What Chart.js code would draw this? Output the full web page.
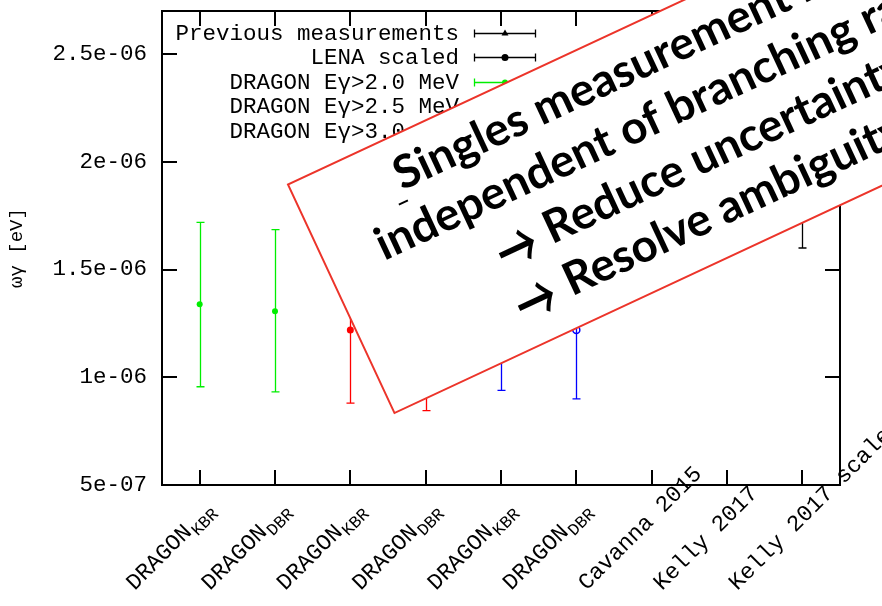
<!DOCTYPE html>
<html>
<head>
<meta charset="utf-8">
<script src="https://cdn.jsdelivr.net/npm/chart.js@4.4.1/dist/chart.umd.min.js"></script>
<style>
  html, body { margin: 0; padding: 0; background: #ffffff; overflow: hidden; }
  canvas { display: block; }
</style>
</head>
<body>
<canvas id="c" width="882" height="606"></canvas>
<script>
// ---- x categories (main text + subscript) ----
const categoryNames = ['DRAGON', 'DRAGON', 'DRAGON', 'DRAGON', 'DRAGON', 'DRAGON', 'Cavanna 2015', 'Kelly 2017', 'Kelly 2017 scaled'];
const categorySubs  = ['KBR', 'DBR', 'KBR', 'DBR', 'KBR', 'DBR', '', '', ''];

// ---- y axis ticks ----
const yTickValues = [5e-7, 1e-6, 1.5e-6, 2e-6, 2.5e-6];
const yTickLabels = ['5e-07', '1e-06', '1.5e-06', '2e-06', '2.5e-06'];

// ---- series: category position, value, lower and upper error limits (eV) ----
const previousX   = [6, 7];
const previousY   = [1.80e-6, 2.10e-6];
const previousLo  = [1.50e-6, 1.75e-6];
const previousHi  = [2.10e-6, 2.45e-6];

const lenaX  = [8];
const lenaY  = [1.92e-6];
const lenaLo = [1.60e-6];
const lenaHi = [2.24e-6];

const dragon20X  = [0, 1];
const dragon20Y  = [1.339e-6, 1.307e-6];
const dragon20Lo = [0.956e-6, 0.932e-6];
const dragon20Hi = [1.719e-6, 1.685e-6];

const dragon25X  = [2, 3];
const dragon25Y  = [1.219e-6, 1.190e-6];
const dragon25Lo = [0.880e-6, 0.845e-6];
const dragon25Hi = [1.558e-6, 1.535e-6];

const dragon30X  = [4, 5];
const dragon30Y  = [1.260e-6, 1.219e-6];
const dragon30Lo = [0.939e-6, 0.900e-6];
const dragon30Hi = [1.581e-6, 1.538e-6];

// ---- call-out note: optional leading arrow + words per line ----
const noteArrows = ['', '', '\u2192', '\u2192'];
const noteWords = [
  'Singles measurement is',
  'independent of branching ratio',
  'Reduce uncertainty',
  'Resolve ambiguity'
];

const MONO = '"Liberation Mono", "DejaVu Sans Mono", monospace';

function points(xs, ys) {
  return xs.map((x, i) => ({ x: x, y: ys[i] }));
}

function series(label, color, style, radius, filled, xs, ys, lo, hi) {
  return {
    label: label,
    data: points(xs, ys),
    errLo: lo,
    errHi: hi,
    showLine: false,
    borderColor: color,
    backgroundColor: filled ? color : '#ffffff',
    pointStyle: style,
    pointRadius: radius,
    pointBorderWidth: filled ? 0 : 1.5,
    pointBackgroundColor: filled ? color : 'rgba(0,0,0,0)',
    pointBorderColor: color
  };
}

const datasets = [
  series('Previous measurements', '#000000', 'triangle', 4, true, previousX, previousY, previousLo, previousHi),
  series('LENA scaled', '#000000', 'circle', 3.5, true, lenaX, lenaY, lenaLo, lenaHi),
  series('DRAGON E\u03b3>2.0 MeV', '#00ee00', 'circle', 3, true, dragon20X, dragon20Y, dragon20Lo, dragon20Hi),
  series('DRAGON E\u03b3>2.5 MeV', '#ff0000', 'circle', 3.5, true, dragon25X, dragon25Y, dragon25Lo, dragon25Hi),
  series('DRAGON E\u03b3>3.0 MeV', '#0000ff', 'circle', 3.5, false, dragon30X, dragon30Y, dragon30Lo, dragon30Hi)
];

function drawMarker(ctx, ds, x, y) {
  ctx.save();
  ctx.fillStyle = ds.pointBackgroundColor;
  ctx.strokeStyle = ds.pointBorderColor;
  ctx.lineWidth = ds.pointBorderWidth || 1;
  Chart.helpers.drawPoint(ctx, {
    pointStyle: ds.pointStyle,
    radius: ds.pointRadius,
    borderWidth: ds.pointBorderWidth,
    rotation: 0
  }, x, y);
  ctx.restore();
}

// Frame, mirrored inward ticks, rotated x labels, error bars and key
const framePlugin = {
  id: 'frame',
  beforeDatasetsDraw(chart) {
    const ctx = chart.ctx;
    const a = chart.chartArea;
    const xs = chart.scales.x;
    const ys = chart.scales.y;
    const tick = 15;
    ctx.save();
    ctx.strokeStyle = '#000';
    ctx.lineWidth = 2;
    ctx.strokeRect(a.left, a.top, a.right - a.left, a.bottom - a.top);

    ctx.beginPath();
    for (let i = 0; i < categoryNames.length; i++) {
      const x = Math.round(xs.getPixelForValue(i));
      ctx.moveTo(x, a.bottom); ctx.lineTo(x, a.bottom - tick);
      ctx.moveTo(x, a.top); ctx.lineTo(x, a.top + tick);
    }
    yTickValues.forEach(v => {
      const y = Math.round(ys.getPixelForValue(v));
      ctx.moveTo(a.left, y); ctx.lineTo(a.left + tick, y);
      ctx.moveTo(a.right, y); ctx.lineTo(a.right - tick, y);
    });
    ctx.stroke();

    // rotated category labels
    ctx.fillStyle = '#000';
    ctx.textBaseline = 'alphabetic';
    ctx.textAlign = 'left';
    for (let i = 0; i < categoryNames.length; i++) {
      const x = xs.getPixelForValue(i);
      ctx.save();
      ctx.translate(x - 65, 591);
      ctx.rotate(-Math.PI / 4);
      ctx.font = '22.8px ' + MONO;
      ctx.fillText(categoryNames[i], 0, 0);
      if (categorySubs[i]) {
        const w = ctx.measureText(categoryNames[i]).width;
        ctx.font = '17px ' + MONO;
        ctx.fillText(categorySubs[i], w + 1, 6);
      }
      ctx.restore();
    }

    // error bars
    ctx.lineWidth = 1.3;
    chart.data.datasets.forEach((ds, di) => {
      const meta = chart.getDatasetMeta(di);
      ctx.strokeStyle = ds.borderColor;
      meta.data.forEach((pt, j) => {
        const x = Math.round(pt.x) + 0.5;
        const yl = ys.getPixelForValue(ds.errLo[j]);
        const yh = ys.getPixelForValue(ds.errHi[j]);
        ctx.beginPath();
        ctx.moveTo(x, yl); ctx.lineTo(x, yh);
        ctx.moveTo(x - 4, yl); ctx.lineTo(x + 4, yl);
        ctx.moveTo(x - 4, yh); ctx.lineTo(x + 4, yh);
        ctx.stroke();
      });
    });

    // key
    const keyTextRight = 459;
    const keyL = 474, keyR = 536, keyMid = 505;
    ctx.font = '22.5px ' + MONO;
    ctx.textAlign = 'right';
    ctx.textBaseline = 'middle';
    chart.data.datasets.forEach((ds, i) => {
      const y = 32.7 + i * 24.5;
      ctx.fillStyle = '#000';
      ctx.fillText(ds.label, keyTextRight, y + 1);
      ctx.strokeStyle = ds.borderColor;
      ctx.lineWidth = 1.3;
      const yy = Math.round(y) + 0.5;
      ctx.beginPath();
      ctx.moveTo(keyL, yy); ctx.lineTo(keyR, yy);
      ctx.moveTo(keyL + 0.5, yy - 4); ctx.lineTo(keyL + 0.5, yy + 4);
      ctx.moveTo(keyR - 0.5, yy - 4); ctx.lineTo(keyR - 0.5, yy + 4);
      ctx.stroke();
      drawMarker(ctx, ds, keyMid, yy);
    });
    ctx.restore();
  }
};

// Tilted call-out box drawn over the plot
const notePlugin = {
  id: 'note',
  afterDraw(chart) {
    const ctx = chart.ctx;
    const boxU = 183, boxV = 289, boxW = 1100, boxH = 252;
    const arrowU = [0, 0, 345, 340];
    const wordU = [284, 238, 397, 393];
    const baseV = [343, 399, 455, 510.5];
    ctx.save();
    ctx.rotate(-25 * Math.PI / 180);
    ctx.fillStyle = '#ffffff';
    ctx.fillRect(boxU, boxV, boxW, boxH);
    ctx.strokeStyle = 'rgb(236,52,42)';
    ctx.lineWidth = 2;
    ctx.strokeRect(boxU, boxV, boxW, boxH);

    const family = 'Lato, "DejaVu Sans", sans-serif';
    ctx.font = 'bold 100px ' + family;
    const w100 = ctx.measureText('Singles measurement').width;
    const size = 100 * 432 / w100;
    ctx.font = 'bold ' + size.toFixed(2) + 'px ' + family;
    ctx.fillStyle = '#000';
    ctx.textAlign = 'left';
    ctx.textBaseline = 'alphabetic';
    noteWords.forEach((t, i) => ctx.fillText(t, wordU[i], baseV[i]));

    // arrows: open-headed glyph fitted to a 38 x 34 ink box, axis 11px above the baseline
    ctx.font = '500 80px "Noto Sans CJK JP", "DejaVu Sans", sans-serif';
    noteArrows.forEach((t, i) => {
      if (!t) return;
      const m = ctx.measureText(t);
      const inkL = -m.actualBoundingBoxLeft, inkR = m.actualBoundingBoxRight;
      const inkT = -m.actualBoundingBoxAscent, inkB = m.actualBoundingBoxDescent;
      const sx = 38 / (inkR - inkL), sy = 34 / (inkB - inkT);
      ctx.save();
      ctx.translate(arrowU[i], baseV[i] - 11);
      ctx.scale(sx, sy);
      ctx.fillText(t, -inkL, -(inkT + inkB) / 2);
      ctx.restore();
    });

    // small stray stroke before the first line
    ctx.strokeStyle = '#000';
    ctx.lineWidth = 2;
    ctx.beginPath();
    ctx.moveTo(275, 354);
    ctx.lineTo(285, 354);
    ctx.stroke();
    ctx.restore();
  }
};

new Chart(document.getElementById('c'), {
  type: 'line',
  data: {
    datasets: datasets
  },
  options: {
    responsive: false,
    animation: false,
    devicePixelRatio: 1,
    events: [],
    layout: { padding: { left: 0, top: 11, right: 42, bottom: 0 } },
    plugins: {
      legend: { display: false },
      tooltip: { enabled: false }
    },
    scales: {
      x: {
        type: 'linear',
        min: -0.5,
        max: 8.5,
        grid: { display: false, drawTicks: false },
        border: { display: false },
        ticks: { display: false },
        afterFit(scale) {
          scale.height = 121;
          scale.paddingLeft = 0; scale.paddingRight = 0;
        }
      },
      y: {
        type: 'linear',
        min: 5e-7,
        max: 2.7e-6,
        grid: { display: false, drawTicks: false },
        border: { display: false },
        afterBuildTicks(scale) { scale.ticks = yTickValues.map(v => ({ value: v })); },
        afterFit(scale) {
          scale.width = 162;
          scale.paddingTop = 0; scale.paddingBottom = 0;
        },
        ticks: {
          padding: 15,
          color: '#000',
          font: { family: MONO, size: 22.5 },
          callback: (v, i) => yTickLabels[i]
        },
        title: {
          display: true,
          text: '\u03c9\u03b3 [eV]',
          color: '#000',
          font: { family: MONO, size: 19 },
          padding: { top: 6, bottom: 0 }
        }
      }
    }
  },
  plugins: [framePlugin, notePlugin]
});
</script>
</body>
</html>
